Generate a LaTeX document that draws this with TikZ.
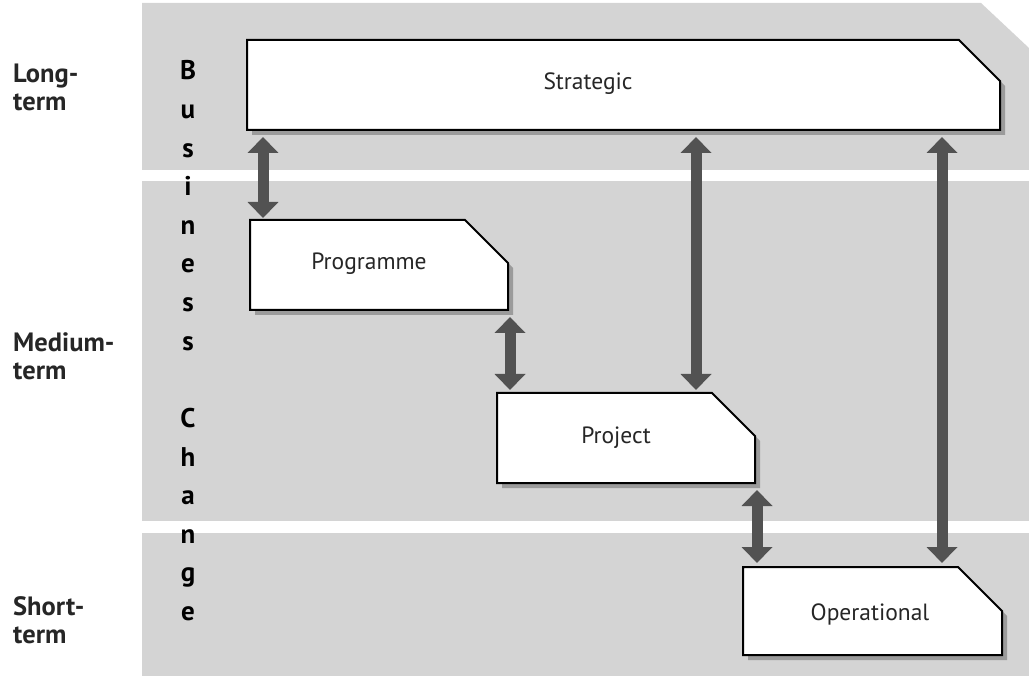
\documentclass[tikz,border=0pt]{standalone}
\usepackage{fontspec}
\setmainfont{PT Sans}
\usetikzlibrary{arrows.meta,calc}
\definecolor{bandgray}{RGB}{212,212,212}
\definecolor{arrowgray}{RGB}{82,82,82}
\definecolor{shadowgray}{RGB}{155,155,155}
\newcommand{\chbox}[2]{%
  \fill[shadowgray] ([shift={(5pt,-5pt)}]#1.north west) -- ([shift={(5pt-#2,-5pt)}]#1.north east) -- ([shift={(5pt,-5pt-#2)}]#1.north east) -- ([shift={(5pt,-5pt)}]#1.south east) -- ([shift={(5pt,-5pt)}]#1.south west) -- cycle;
  \filldraw[fill=white, draw=black, line width=2pt, line join=miter] (#1.north west) -- ([xshift=-#2]#1.north east) -- ([yshift=-#2]#1.north east) -- (#1.south east) -- (#1.south west) -- cycle;
}
\tikzset{
  area/.style={rectangle, draw=none, inner sep=0pt, outer sep=0pt},
  boxtext/.style={inner sep=0pt, font=\fontsize{23.5}{28}\selectfont, text=black!85},
  sidetext/.style={inner sep=0pt, align=left, font=\bfseries\fontsize{26.5}{28}\selectfont, text=black!85},
  colletter/.style={inner sep=0pt, font=\bfseries\fontsize{27}{30}\selectfont},
  bigarrow/.style={draw=arrowgray, line width=11pt, {Triangle[width=30pt,length=16pt]}-{Triangle[width=30pt,length=16pt]}}
}
\begin{document}
\begin{tikzpicture}[x=1pt,y=-1pt]
\useasboundingbox (0,0) rectangle (1029,676);
% background bands
\fill[bandgray] (142,3) -- (981,3) -- (1029,48) -- (1029,676) -- (142,676) -- cycle;
\fill[white] (142,170) rectangle (1029,181);
\fill[white] (142,521) rectangle (1029,533);
% boxes
\node[area, minimum width=753pt, minimum height=90pt] (strat) at (623.5,85) {};
\node[area, minimum width=258pt, minimum height=90pt] (prog) at (379,265) {};
\node[area, minimum width=258pt, minimum height=90pt] (proj) at (626,438) {};
\node[area, minimum width=259pt, minimum height=88pt] (oper) at (872.5,611) {};
\chbox{strat}{41pt}
\chbox{prog}{43pt}
\chbox{proj}{43pt}
\chbox{oper}{44pt}
\node[boxtext, anchor=base] (stratT) at (588,90) {Strategic};
\node[boxtext, anchor=base] (progT) at (369,270) {Programme};
\node[boxtext, anchor=base] (projT) at (616,444) {Project};
\node[boxtext, anchor=base] (operT) at (870,620) {Operational};
% side labels
\node[sidetext, anchor=north west] (lt) at (13,64) {Long-\\term};
\node[sidetext, anchor=north west] (mt) at (13,332) {Medium-\\term};
\node[sidetext, anchor=north west] (st) at (13,596) {Short-\\term};
% vertical title
\foreach \l [count=\i from 0] in {B,u,s,i,n,e,s,s}
  \node[colletter, anchor=base] (bl\i) at (188,80+38.6*\i) {\l};
\foreach \l [count=\i from 9] in {C,h,a,n,g,e}
  \node[colletter, anchor=base] (cl\i) at (188,80+38.6*\i) {\l};
% arrows
\coordinate (a1) at (263,0);
\coordinate (a2) at (510,0);
\coordinate (a3) at (696,0);
\coordinate (a4) at (757,0);
\coordinate (a5) at (942,0);
\draw[bigarrow] ($(strat.south -| a1)+(0,7)$) -- ($(prog.north -| a1)+(0,-2)$);
\draw[bigarrow] ($(prog.south -| a2)+(0,7)$) -- ($(proj.north -| a2)+(0,-3)$);
\draw[bigarrow] ($(strat.south -| a3)+(0,7)$) -- ($(proj.north -| a3)+(0,-3)$);
\draw[bigarrow] ($(proj.south -| a4)+(0,7)$) -- ($(oper.north -| a4)+(0,-4)$);
\draw[bigarrow] ($(strat.south -| a5)+(0,7)$) -- ($(oper.north -| a5)+(0,-4)$);
\end{tikzpicture}
\end{document}
